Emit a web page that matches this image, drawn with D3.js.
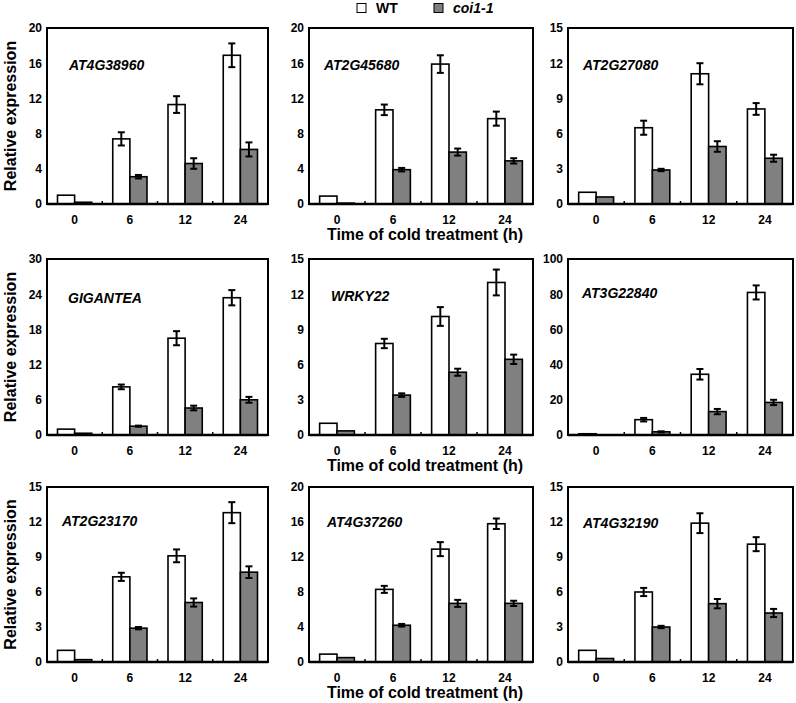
<!DOCTYPE html>
<html>
<head>
<meta charset="utf-8">
<script src="https://cdn.jsdelivr.net/npm/d3@7/dist/d3.min.js"></script>
<style>
  html, body { margin: 0; padding: 0; background: #fff; }
  svg { display: block; font-family: Arial, "Liberation Sans", sans-serif; }
</style>
</head>
<body>
<svg id="chart" width="796" height="703"></svg>
<script>
// ---------- data ----------
const timepoints = ["0", "6", "12", "24"];
const seriesNames = ["WT", "coi1-1"];
const genes = ["AT4G38960", "AT2G45680", "AT2G27080",
               "GIGANTEA", "WRKY22", "AT3G22840",
               "AT2G23170", "AT4G37260", "AT4G32190"];
const yMax  = [20, 20, 15, 30, 15, 100, 15, 20, 15];
const yStep = [4, 4, 3, 6, 3, 20, 3, 4, 3];
const wtMean = [
  [1.0, 7.4, 11.3, 16.9],
  [0.9, 10.7, 15.9, 9.7],
  [1.0, 6.5, 11.1, 8.1],
  [1.0, 8.2, 16.5, 23.4],
  [1.0, 7.8, 10.1, 13.0],
  [0.7, 8.7, 34.5, 81.0],
  [1.0, 7.3, 9.1, 12.8],
  [0.9, 8.3, 12.9, 15.8],
  [1.0, 6.0, 11.9, 10.1]
];
const wtErr = [
  [0, 0.75, 0.95, 1.35],
  [0, 0.6, 1.0, 0.8],
  [0, 0.6, 0.9, 0.5],
  [0, 0.4, 1.2, 1.3],
  [0, 0.4, 0.8, 1.1],
  [0, 1.0, 3.0, 4.0],
  [0, 0.35, 0.55, 0.9],
  [0, 0.4, 0.8, 0.6],
  [0, 0.35, 0.85, 0.6]
];
const coiMean = [
  [0.2, 3.1, 4.6, 6.2],
  [0.1, 3.9, 5.9, 4.9],
  [0.6, 2.9, 4.9, 3.9],
  [0.3, 1.5, 4.6, 6.0],
  [0.35, 3.4, 5.35, 6.45],
  [0.1, 1.8, 13.3, 18.5],
  [0.2, 2.9, 5.1, 7.7],
  [0.5, 4.2, 6.7, 6.7],
  [0.3, 3.0, 5.0, 4.2]
];
const coiErr = [
  [0, 0.2, 0.6, 0.8],
  [0, 0.2, 0.4, 0.3],
  [0, 0.1, 0.45, 0.3],
  [0, 0.1, 0.4, 0.5],
  [0, 0.15, 0.3, 0.4],
  [0, 0.3, 1.5, 1.5],
  [0, 0.1, 0.35, 0.5],
  [0, 0.15, 0.4, 0.3],
  [0, 0.1, 0.4, 0.35]
];

// ---------- layout ----------
const cols = [[47, 268], [309, 533], [568, 793]];
const rows = [[28, 204], [259, 435], [487, 662]];
const labelOffset = [[22, 42], [15, 42], [15, 42], [21, 44], [22, 42], [14, 39], [15, 39], [18, 40], [15, 41]];
const fills = ["#ffffff", "#808080"];

const svg = d3.select("#chart");
svg.append("rect").attr("width", 796).attr("height", 703).attr("fill", "#fff");

genes.forEach((gene, i) => {
  const c = i % 3, r = Math.floor(i / 3);
  const [x0, x1] = cols[c];
  const [yTop, yBot] = rows[r];
  const g = svg.append("g");

  const x = d3.scaleBand().domain(timepoints).range([x0, x1]);
  const bw = x.bandwidth();
  const xs = d3.scaleBand().domain(seriesNames).range([bw * 0.19, bw * 0.81]);
  const y = d3.scaleLinear().domain([0, yMax[i]]).range([yBot, yTop]);

  const rowsData = [];
  timepoints.forEach((t, k) => {
    rowsData.push({t, s: seriesNames[0], v: wtMean[i][k], e: wtErr[i][k], f: fills[0]});
    rowsData.push({t, s: seriesNames[1], v: coiMean[i][k], e: coiErr[i][k], f: fills[1]});
  });

  // bars
  g.selectAll("rect.bar").data(rowsData).join("rect")
    .attr("class", "bar")
    .attr("x", d => x(d.t) + xs(d.s))
    .attr("width", xs.bandwidth())
    .attr("y", d => y(d.v))
    .attr("height", d => y(0) - y(d.v))
    .attr("fill", d => d.f)
    .attr("stroke", "#000")
    .attr("stroke-width", 1.6);

  // error bars
  const eb = rowsData.filter(d => d.e > 0);
  const cx = d => x(d.t) + xs(d.s) + xs.bandwidth() / 2;
  g.selectAll("line.err").data(eb).join("line")
    .attr("x1", cx).attr("x2", cx)
    .attr("y1", d => y(d.v + d.e)).attr("y2", d => y(d.v - d.e))
    .attr("stroke", "#000").attr("stroke-width", 2);
  ["+", "-"].forEach(sign => {
    g.selectAll("line.cap" + (sign === "+" ? "p" : "m")).data(eb).join("line")
      .attr("x1", d => cx(d) - 3.5).attr("x2", d => cx(d) + 3.5)
      .attr("y1", d => y(sign === "+" ? d.v + d.e : d.v - d.e))
      .attr("y2", d => y(sign === "+" ? d.v + d.e : d.v - d.e))
      .attr("stroke", "#000").attr("stroke-width", 2);
  });

  // frame
  g.append("rect")
    .attr("x", x0).attr("y", yTop)
    .attr("width", x1 - x0).attr("height", yBot - yTop)
    .attr("fill", "none").attr("stroke", "#000").attr("stroke-width", 2);
  g.append("line")
    .attr("x1", x0).attr("x2", x1).attr("y1", yBot).attr("y2", yBot)
    .attr("stroke", "#000").attr("stroke-width", 2.5);

  // x axis: inner ticks between categories
  const xAxis = d3.axisBottom(x).tickSize(0).tickPadding(11);
  const xa = g.append("g").attr("transform", `translate(0,${yBot})`).call(xAxis);
  xa.select(".domain").remove();
  xa.selectAll("text").attr("font-size", 12).attr("font-weight", "bold")
    .attr("font-family", "Arial, 'Liberation Sans', sans-serif").attr("fill", "#000");
  g.selectAll("line.xt").data(timepoints.slice(1)).join("line")
    .attr("x1", d => x(d)).attr("x2", d => x(d))
    .attr("y1", yBot).attr("y2", yBot - 3)
    .attr("stroke", "#000").attr("stroke-width", 1.5);

  // y axis
  const yAxis = d3.axisLeft(y).tickValues(d3.range(0, yMax[i] + 0.001, yStep[i]))
    .tickSize(0).tickPadding(5).tickFormat(d3.format("d"));
  const ya = g.append("g").attr("transform", `translate(${x0},0)`).call(yAxis);
  ya.select(".domain").remove();
  ya.selectAll("text").attr("font-size", 12).attr("font-weight", "bold")
    .attr("font-family", "Arial, 'Liberation Sans', sans-serif").attr("fill", "#000");

  // gene label
  g.append("text")
    .attr("x", x0 + labelOffset[i][0]).attr("y", yTop + labelOffset[i][1])
    .attr("font-size", 14).attr("font-weight", "bold").attr("font-style", "italic")
    .text(gene);

  if (c === 0) {
    g.append("text")
      .attr("transform", `translate(16,${(yTop + yBot) / 2}) rotate(-90)`)
      .attr("text-anchor", "middle")
      .attr("font-size", 16).attr("font-weight", "bold")
      .text("Relative expression");
  }
  if (c === 1) {
    g.append("text")
      .attr("x", (x0 + x1) / 2 + 4).attr("y", yBot + 36)
      .attr("text-anchor", "middle")
      .attr("font-size", 16).attr("font-weight", "bold")
      .text("Time of cold treatment (h)");
  }
});

// legend
const lg = svg.append("g");
const legendX = [357, 434];
seriesNames.forEach((s, k) => {
  lg.append("rect").attr("x", legendX[k]).attr("y", 3.5).attr("width", 9).attr("height", 9)
    .attr("fill", fills[k]).attr("stroke", "#000").attr("stroke-width", 1);
  lg.append("text").attr("x", legendX[k] + 19).attr("y", 13)
    .attr("font-size", 14).attr("font-weight", "bold")
    .attr("font-style", k === 1 ? "italic" : "normal")
    .text(s);
});
</script>
</body>
</html>
